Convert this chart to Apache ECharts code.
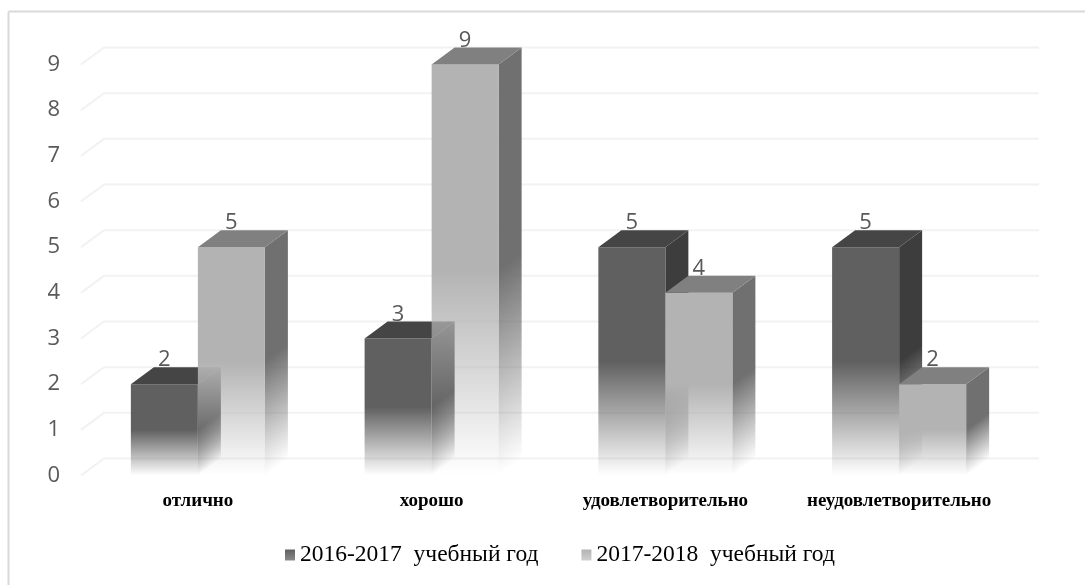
<!DOCTYPE html>
<html>
<head>
<meta charset="utf-8">
<style>html,body{margin:0;padding:0;background:#fff}#c{width:1085px;height:585px}</style>
<script src="https://cdn.jsdelivr.net/npm/echarts@6/dist/echarts.min.js"></script>
</head>
<body>
<div id="c"></div>
<script>
var categories = ['отлично', 'хорошо', 'удовлетворительно', 'неудовлетворительно'];
var seriesA = [2, 3, 5, 5];
var seriesB = [5, 9, 4, 2];
var nameA = '2016-2017  учебный год';
var nameB = '2017-2018  учебный год';
var yTicks = [0, 1, 2, 3, 4, 5, 6, 7, 8, 9];

var DX = 23, DY = 17, BAR_FRAC = 0.2867;

function rgba(c, a) { return 'rgba(' + c[0] + ',' + c[1] + ',' + c[2] + ',' + a + ')'; }

function fade(c, x1, y1, x2, y2) {
  return {
    type: 'linear', global: true, x: x1, y: y1, x2: x2, y2: y2,
    colorStops: [
      { offset: 0, color: rgba(c, 1) },
      { offset: 0.5, color: rgba(c, 1) },
      { offset: 1, color: rgba(c, 0) }
    ]
  };
}

function barRenderer(side, pal) {
  return function (params, api) {
    var top = api.coord([api.value(0), api.value(1)]);
    var base = api.coord([api.value(0), 0]);
    var w = api.size([1, 0])[0] * BAR_FRAC;
    var xl = side < 0 ? top[0] - w : top[0];
    var xr = xl + w;
    var yt = top[1], yb = base[1], H = yb - yt;
    var nl = Math.sqrt(DX * DX + DY * DY);
    var k = H * DX / nl;
    return {
      type: 'group',
      children: [
        { type: 'polygon', shape: { points: [[xr, yt], [xr + DX, yt - DY], [xr + DX, yb - DY], [xr, yb]] },
          style: { fill: fade(pal.side, xr, yt, xr + DY / nl * k, yt + DX / nl * k) } },
        { type: 'rect', shape: { x: xl, y: yt, width: w, height: H },
          style: { fill: fade(pal.front, xl, yt, xl, yb) } },
        { type: 'polygon', shape: { points: [[xl, yt], [xl + DX, yt - DY], [xr + DX, yt - DY], [xr, yt]] },
          style: { fill: rgba(pal.top, 1) } },
        { type: 'text', z2: 50, style: { text: String(api.value(1)), x: (xl + xr) / 2, y: yt - 24,
            align: 'center', verticalAlign: 'middle', fill: '#595959',
            font: '22px "Open Sans", sans-serif' } }
      ]
    };
  };
}

function wallRenderer(params, api) {
  var p = api.coord([0, api.value(1)]);
  var band = api.size([1, 0])[0];
  var left = p[0] - band / 2;
  var right = left + band * categories.length;
  return {
    type: 'polyline',
    shape: { points: [[left, p[1]], [left + DX, p[1] - DY], [right + DX, p[1] - DY]] },
    style: { stroke: '#f2f2f2', lineWidth: 2, fill: null }
  };
}

var palA = { front: [96, 96, 96], side: [61, 61, 61], top: [69, 69, 69] };
var palB = { front: [179, 179, 179], side: [112, 112, 112], top: [128, 128, 128] };

var chart = echarts.init(document.getElementById('c'), null, { renderer: 'canvas' });
chart.setOption({
  animation: false,
  backgroundColor: '#fff',
  graphic: [
    { type: 'line', silent: true, z: -10, shape: { x1: 8.5, y1: 585, x2: 8.5, y2: 11.5 },
      style: { stroke: '#d9d9d9', lineWidth: 2 } },
    { type: 'line', silent: true, z: -10, shape: { x1: 8.5, y1: 11.5, x2: 1085, y2: 11.5 },
      style: { stroke: '#d9d9d9', lineWidth: 2 } }
  ],
  grid: { left: 81, right: 69, top: 64.5, bottom: 109.5 },
  legend: {
    left: 280, top: 538, itemWidth: 10, itemHeight: 11, itemGap: 43, icon: 'rect',
    data: [nameA, nameB],
    textStyle: { fontFamily: '"Liberation Serif", serif', fontSize: 23.5, color: '#000' }
  },
  xAxis: {
    type: 'category', data: categories,
    axisLine: { show: false }, axisTick: { show: false },
    axisLabel: { margin: 16, interval: 0, fontFamily: '"Liberation Serif", serif', fontWeight: 'bold',
      fontSize: 19, color: '#000' }
  },
  yAxis: {
    type: 'value', min: 0, max: 9, interval: 1,
    splitLine: { show: false }, axisLine: { show: false }, axisTick: { show: false },
    axisLabel: { margin: 21, fontFamily: '"Open Sans", sans-serif', fontSize: 22, color: '#595959' }
  },
  series: [
    { type: 'custom', z: 1, silent: true, renderItem: wallRenderer,
      encode: { x: 0, y: 1 }, data: yTicks.map(function (v) { return [0, v]; }) },
    { type: 'custom', name: nameA, z: 2, renderItem: barRenderer(-1, palA), encode: { x: 0, y: 1 },
      itemStyle: { color: new echarts.graphic.LinearGradient(0, 0, 0, 1, [{ offset: 0, color: '#606060' }, { offset: 1, color: '#8a8a8a' }]) },
      data: seriesA.map(function (v, i) { return [i, v]; }) },
    { type: 'custom', name: nameB, z: 3, renderItem: barRenderer(1, palB), encode: { x: 0, y: 1 },
      itemStyle: { color: new echarts.graphic.LinearGradient(0, 0, 0, 1, [{ offset: 0, color: '#b3b3b3' }, { offset: 1, color: '#cfcfcf' }]) },
      data: seriesB.map(function (v, i) { return [i, v]; }) }
  ]
});
</script>
</body>
</html>
